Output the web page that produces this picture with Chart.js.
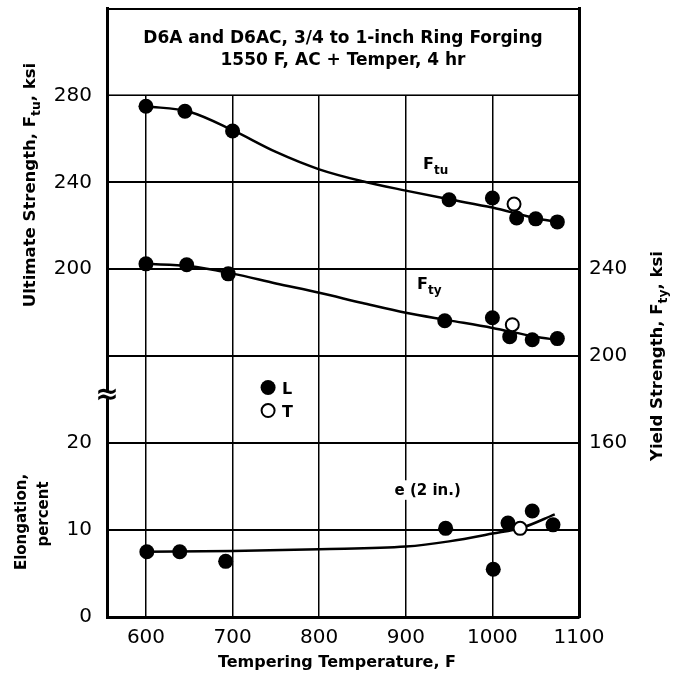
<!DOCTYPE html>
<html>
<head>
<meta charset="utf-8">
<script src="https://cdn.jsdelivr.net/npm/chart.js@4.4.1/dist/chart.umd.min.js"></script>
<style>
  html, body { margin: 0; padding: 0; background: #fff; }
  #wrap { width: 681px; height: 679px; }
</style>
</head>
<body>
<div id="wrap"><canvas id="chart" width="681" height="679"></canvas></div>
<script>
// tick labels
var tempTicks = [600, 700, 800, 900, 1000, 1100];
var ftuTicks = [200, 240, 280];
var ftyTicks = [160, 200, 240];
var elongTicks = [0, 10, 20];

// ultimate strength, ksi (L = solid dots, T = open dots)
var ftuTempL = [600, 645, 700, 950, 1000, 1028, 1050, 1075];
var ftuL = [275, 272.7, 263.6, 232, 232.8, 223.6, 223.2, 221.8];
var ftuTempT = [1025];
var ftuT = [230];
var ftuCurveTemp = [600, 650, 700, 750, 800, 850, 900, 950, 1000, 1050, 1075];
var ftuCurve = [275, 272.5, 264, 254, 246, 240.5, 236.2, 232.2, 228.4, 223.5, 221.8];

// yield strength, ksi
var ftyTempL = [600, 647, 695, 945, 1000, 1020, 1046, 1075];
var ftyL = [242.5, 242.1, 237.9, 216.3, 217.7, 209, 207.6, 208.1];
var ftyTempT = [1023];
var ftyT = [214.5];
var ftyCurveTemp = [600, 650, 700, 750, 800, 850, 900, 950, 1000, 1050, 1075];
var ftyCurve = [242.5, 241.5, 238, 233.5, 229.2, 224.5, 220, 216.5, 213, 209, 207.5];

// elongation, percent
var elTempL = [601, 639, 692, 946, 1001, 1018, 1046, 1070];
var elL = [7.5, 7.5, 6.4, 10.2, 5.5, 10.8, 12.2, 10.6];
var elTempT = [1032];
var elT = [10.2];
var elCurveTemp = [600, 700, 800, 900, 950, 1000, 1035, 1072];
var elCurve = [7.5, 7.6, 7.8, 8.1, 8.7, 9.6, 10.3, 11.8];

function pts(xs, ys) {
	return xs.map(function (x, i) { return { x: x, y: ys[i] }; });
}

var BOLD = 'bold {s}px "DejaVu Sans"';
function bold(s) { return BOLD.replace('{s}', s); }

// text with optional subscript parts, centred or left aligned, optionally rotated
function drawRich(ctx, parts, x, y, size, rotate, align, bg) {
	ctx.save();
	ctx.translate(x, y);
	if (rotate) ctx.rotate(-Math.PI / 2);
	ctx.textAlign = 'left';
	ctx.textBaseline = 'alphabetic';
	var total = 0;
	parts.forEach(function (p) {
		ctx.font = bold(p.sub ? size * 0.75 : size);
		p.w = ctx.measureText(p.t).width;
		total += p.w;
	});
	var cx = align === 'center' ? -total / 2 : 0;
	if (bg) {
		ctx.fillStyle = '#fff';
		ctx.fillRect(cx - 3, -size, total + 6, size * 1.3);
	}
	ctx.fillStyle = '#000';
	parts.forEach(function (p) {
		ctx.font = bold(p.sub ? size * 0.75 : size);
		ctx.fillText(p.t, cx, p.sub ? size * 0.32 : 0);
		cx += p.w;
	});
	ctx.restore();
}

var decor = {
	id: 'decor',
	beforeDatasetsDraw: function (chart) {
		var ctx = chart.ctx, ca = chart.chartArea;
		var yU = chart.scales.yU, yE = chart.scales.yE;
		var y280 = yU.getPixelForValue(280);
		// title box: no vertical grid lines
		ctx.save();
		ctx.fillStyle = '#fff';
		ctx.fillRect(ca.left + 2, ca.top + 1.5, ca.width - 3.5, y280 - ca.top - 2.5);
		ctx.restore();
		var cx = (ca.left + ca.right) / 2;
		drawRich(ctx, [{ t: 'D6A and D6AC, 3/4 to 1-inch Ring Forging' }], cx, ca.top + 34, 17, false, 'center');
		drawRich(ctx, [{ t: '1550 F, AC + Temper, 4 hr' }], cx, ca.top + 56, 17, false, 'center');
		// elongation tick labels share the left column with the strength ticks
		ctx.save();
		ctx.fillStyle = '#000';
		ctx.font = '20px "DejaVu Sans"';
		ctx.textAlign = 'right';
		ctx.textBaseline = 'middle';
		elongTicks.forEach(function (v) {
			ctx.fillText(String(v), ca.left - 15, yE.getPixelForValue(v));
		});
		ctx.restore();
		// axis break mark
		var yb = yE.getPixelForValue(25.5);
		ctx.save();
		ctx.fillStyle = '#fff';
		ctx.fillRect(ca.left - 3, yb - 3, 6, 6);
		ctx.fillStyle = '#000';
		ctx.font = bold(28);
		ctx.textAlign = 'center';
		ctx.textBaseline = 'middle';
		ctx.fillText('\u2248', ca.left, yb);
		ctx.restore();
		// label sits on a gap in the 900 grid line
		drawRich(ctx, [{ t: 'e (2 in.)' }], chart.scales.x.getPixelForValue(887), yE.getPixelForValue(14), 15, false, 'left', true);
	},
	afterDatasetsDraw: function (chart) {
		var ctx = chart.ctx, ca = chart.chartArea, s = chart.scales;
		var x = s.x, yU = s.yU, yY = s.yY, yE = s.yE;
		// curve labels
		drawRich(ctx, [{ t: 'F' }, { t: 'tu', sub: true }], x.getPixelForValue(920), yU.getPixelForValue(246), 16, false, 'left');
		drawRich(ctx, [{ t: 'F' }, { t: 'ty', sub: true }], x.getPixelForValue(913), yY.getPixelForValue(231), 16, false, 'left');
		// legend
		var lx = x.getPixelForValue(741);
		var l1 = yE.getPixelForValue(26.4), l2 = yE.getPixelForValue(23.75);
		ctx.save();
		ctx.fillStyle = '#000';
		ctx.beginPath(); ctx.arc(lx, l1, 7.5, 0, Math.PI * 2); ctx.fill();
		ctx.lineWidth = 2; ctx.strokeStyle = '#000';
		ctx.beginPath(); ctx.arc(lx, l2, 6.5, 0, Math.PI * 2); ctx.stroke();
		ctx.restore();
		drawRich(ctx, [{ t: 'L' }], lx + 14, l1 + 6, 16, false, 'left');
		drawRich(ctx, [{ t: 'T' }], lx + 14, l2 + 6, 16, false, 'left');
		// axis titles
		drawRich(ctx, [{ t: 'Ultimate Strength, F' }, { t: 'tu', sub: true }, { t: ', ksi' }], 35, 185, 16.5, true, 'center');
		drawRich(ctx, [{ t: 'Elongation,' }], 26, 522, 15, true, 'center');
		drawRich(ctx, [{ t: 'percent' }], 48, 514, 15, true, 'center');
		drawRich(ctx, [{ t: 'Yield Strength, F' }, { t: 'ty', sub: true }, { t: ', ksi' }], 662, 356, 16.5, true, 'center');
		drawRich(ctx, [{ t: 'Tempering Temperature, F' }], (ca.left + ca.right) / 2 - 6, 667, 16, false, 'center');
	}
};

function setTicks(list) {
	return function (scale) { scale.ticks = list.map(function (v) { return { value: v }; }); };
}
function gridValues(min, max, step) {
	var out = [];
	for (var v = min; v <= max; v += step) out.push(v);
	return out;
}

var tickFont = { family: 'DejaVu Sans', size: 20 };
var dot = { type: 'scatter', showLine: false, pointRadius: 7.5, pointHoverRadius: 7.5, backgroundColor: '#000', borderColor: '#000', borderWidth: 0 };
var ring = { type: 'scatter', showLine: false, pointRadius: 6.5, pointHoverRadius: 6.5, backgroundColor: '#fff', borderColor: '#000', borderWidth: 2 };
var curve = { type: 'line', pointRadius: 0, borderColor: '#000', borderWidth: 2.5, cubicInterpolationMode: 'monotone', fill: false };

function ds(base, data, axis, order) {
	return Object.assign({}, base, { data: data, yAxisID: axis, order: order });
}

var ctx = document.getElementById('chart').getContext('2d');
var chart = new Chart(ctx, {
	type: 'scatter',
	data: {
		datasets: [
			ds(curve, pts(ftuCurveTemp, ftuCurve), 'yU', 3),
			ds(dot, pts(ftuTempL, ftuL), 'yU', 2),
			ds(ring, pts(ftuTempT, ftuT), 'yU', 1),
			ds(curve, pts(ftyCurveTemp, ftyCurve), 'yY', 3),
			ds(dot, pts(ftyTempL, ftyL), 'yY', 2),
			ds(ring, pts(ftyTempT, ftyT), 'yY', 1),
			ds(curve, pts(elCurveTemp, elCurve), 'yE', 3),
			ds(dot, pts(elTempL, elL), 'yE', 2),
			ds(ring, pts(elTempT, elT), 'yE', 1)
		]
	},
	options: {
		responsive: false,
		animation: false,
		layout: { padding: { top: 7, left: 0, right: 0, bottom: 0 } },
		plugins: { legend: { display: false }, tooltip: { enabled: false } },
		scales: {
			x: {
				type: 'linear', min: 555, max: 1100,
				afterBuildTicks: setTicks(tempTicks),
				afterFit: function (s) { s.height = 62; s.paddingLeft = 0; s.paddingRight = 0; },
				grid: { color: '#000', lineWidth: 1.5, drawTicks: false },
				border: { color: '#000', width: 3 },
				ticks: { color: '#000', font: tickFont, padding: 9, autoSkip: false, maxRotation: 0, callback: function (v) { return String(v); } }
			},
			yU: {
				type: 'linear', position: 'left', min: 40, max: 320,
				afterBuildTicks: setTicks(gridValues(40, 320, 40)),
				afterFit: function (s) { s.width = 107; s.paddingTop = 0; s.paddingBottom = 0; },
				grid: { color: '#000', lineWidth: 2, drawTicks: false },
				border: { color: '#000', width: 3 },
				ticks: { color: '#000', font: tickFont, padding: 15, callback: function (v) { return ftuTicks.indexOf(v) >= 0 ? String(v) : ''; } }
			},
			yE: {
				type: 'linear', position: 'left', display: false, min: 0, max: 70
			},
			yY: {
				type: 'linear', position: 'right', min: 80, max: 360,
				afterBuildTicks: setTicks(ftyTicks),
				afterFit: function (s) { s.width = 102; s.paddingTop = 0; s.paddingBottom = 0; },
				grid: { display: false, drawTicks: false },
				border: { color: '#000', width: 3 },
				ticks: { color: '#000', font: tickFont, padding: 10, callback: function (v) { return String(v); } }
			}
		}
	},
	plugins: [decor]
});
</script>
</body>
</html>
